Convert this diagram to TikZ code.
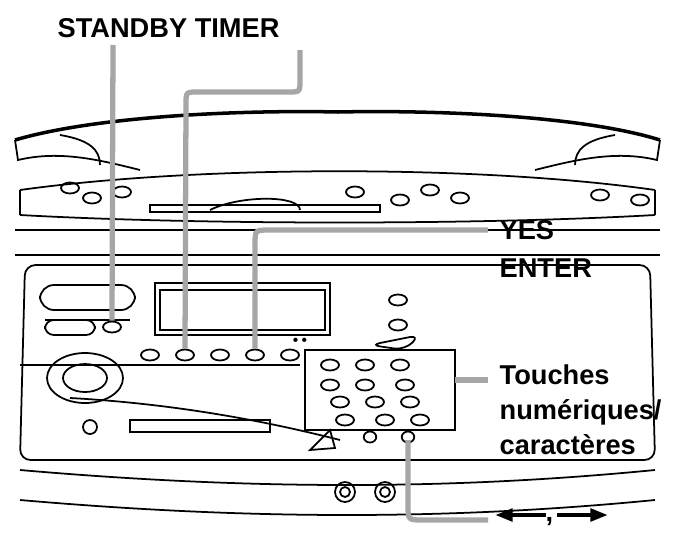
\documentclass[tikz,border=0pt]{standalone}
\usepackage{fontspec}
\setmainfont{Liberation Sans}
\usetikzlibrary{shapes.geometric,arrows.meta}
\begin{document}
\begin{tikzpicture}[x=0.02cm,y=-0.02cm,line width=1pt,
  lbl/.style={font=\bfseries\fontsize{15.5}{20}\selectfont,anchor=west,align=left,inner sep=1pt},
  lead/.style={draw=gray!70,line width=3pt},
  btn/.style={draw,ellipse,minimum width=0.36cm,minimum height=0.22cm,inner sep=0pt}]
\useasboundingbox (0,0) rectangle (676,551);

% Lid
\draw[line width=2pt] (15,140) .. controls (100,115) and (250,110) .. (338,112)
  .. controls (430,110) and (580,115) .. (660,140);
\draw (15,140) -- (18,160) .. controls (60,150) and (100,160) .. (140,170);
\draw (660,140) -- (657,160) .. controls (615,150) and (575,160) .. (535,170);
\draw (60,135) .. controls (90,140) and (100,150) .. (100,165);
\draw (615,135) .. controls (585,140) and (575,150) .. (575,165);

% Upper deck
\draw (20,190) .. controls (200,165) and (480,165) .. (655,190);
\draw (20,215) .. controls (200,225) and (480,225) .. (655,215);
\draw (20,190) -- (20,215);
\draw (655,190) -- (655,215);
\draw (150,205) rectangle (380,212);
\draw (210,210) .. controls (240,195) and (300,195) .. (300,210);
\foreach \x/\y in {70/188,92/198,122/192,355/192,400/200,430/190,460/198,640/200,600/195}
  \node[btn] at (\x,\y) {};

% Body
\draw (15,230) -- (660,230);
\draw (15,255) -- (660,255);
\draw[rounded corners=6pt] (25,265) -- (650,265) -- (655,460) -- (20,460) -- cycle;
\draw (20,365) -- (300,365);
\draw[rounded corners=8pt] (40,285) rectangle (135,310);
\draw (45,320) -- (130,320);
\draw[rounded corners=5pt] (45,320) rectangle (95,335);
\node[btn] at (112,327) (sbtn) {};
\draw (155,283) rectangle (330,335);
\draw (160,290) rectangle (325,330);
\foreach \y in {300,325} \node[btn] at (398,\y) {};
\draw[rounded corners=6pt] (370,345) -- (420,335) -- (405,350) -- cycle;

% Jog
\draw (85,378) ellipse (38 and 25);
\draw (85,378) ellipse (22 and 14);

% Function buttons
\foreach \x [count=\i] in {150,185,220,255,290} \node[btn] (f\i) at (\x,355) {};
\node at (300,340) {\tiny$\bullet\,\bullet$};

% Keypad
\foreach \x in {330,365,400} \node[btn] at (\x,365) {};
\foreach \x in {330,365,405} \node[btn] at (\x,385) {};
\foreach \x in {340,375,410} \node[btn] at (\x,402) {};
\foreach \x in {345,385,420} \node[btn] at (\x,420) {};
\foreach \x in {370,408} \node[btn,minimum width=0.25cm] at (\x,437) {};
\draw (305,350) rectangle (455,430);

% Tape slot / front
\draw (70,398) .. controls (200,405) and (300,430) .. (340,440);
\draw (130,420) rectangle (270,432);
\draw (90,427) circle (7);
\draw (310,450) -- (330,430) -- (335,448) -- cycle;
\draw (20,470) .. controls (250,490) and (450,490) .. (655,470);
\draw (20,500) .. controls (250,520) and (450,520) .. (655,500);
\draw (345,492) circle (10); \draw (345,492) circle (5);
\draw (385,492) circle (10); \draw (385,492) circle (5);

% Leaders
\coordinate (sb) at (113,45);
\draw[lead] (sb) -- (sbtn.north);
\draw[lead] (300,50) -- (300,80) .. controls (300,92) .. (288,92)
  -- (198,92) .. controls (186,92) .. (186,104) -- (f2.north);
\draw[lead] (488,230) -- (270,230) .. controls (255,230) .. (255,245) -- (f4.north);
\draw[lead] (455,380) -- (488,380);
\draw[lead] (408,440) -- (408,505) .. controls (408,520) .. (423,520) -- (488,520);

% Labels
\node[lbl] at (55,28) {STANDBY TIMER};
\node[lbl] at (497,230) {YES};
\node[lbl] at (497,268) {ENTER};
\node[lbl,anchor=north west] at (497,362) {Touches\\num\'eriques/\\caract\`eres};
\node[lbl] (comma) at (543,522) {,};
\draw[-{Triangle[length=10pt,width=7pt]},line width=2.4pt] (546,515) -- (495,515);
\draw[-{Triangle[length=10pt,width=7pt]},line width=2.4pt] (557,515) -- (608,515);
\end{tikzpicture}
\end{document}
